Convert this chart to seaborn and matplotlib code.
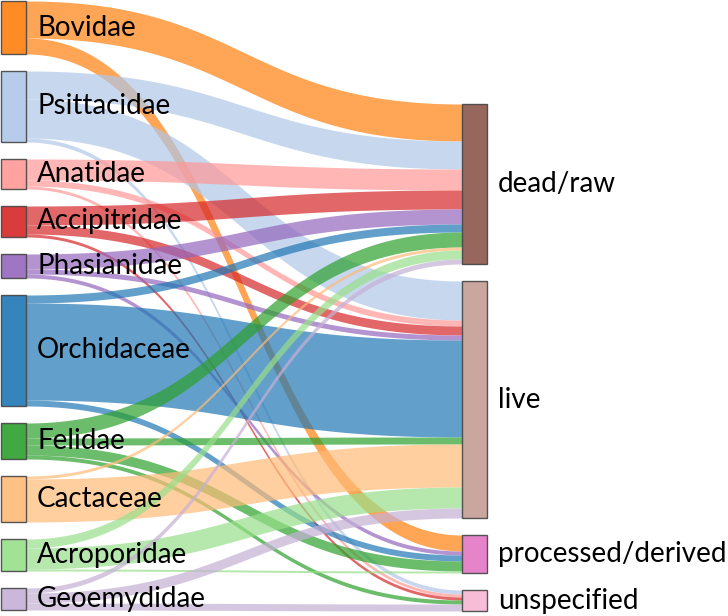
import numpy as np
import pandas as pd
import seaborn as sns
import matplotlib.pyplot as plt
from matplotlib.patches import Rectangle

# families (left column) and trade terms (right column)
families = ['Bovidae', 'Psittacidae', 'Anatidae', 'Accipitridae', 'Phasianidae',
            'Orchidaceae', 'Felidae', 'Cactaceae', 'Acroporidae', 'Geoemydidae']
terms = ['dead/raw', 'live', 'processed/derived', 'unspecified']

# links
link_source = ['Bovidae', 'Bovidae',
               'Psittacidae', 'Psittacidae', 'Psittacidae',
               'Anatidae', 'Anatidae', 'Anatidae',
               'Accipitridae', 'Accipitridae', 'Accipitridae',
               'Phasianidae', 'Phasianidae', 'Phasianidae',
               'Orchidaceae', 'Orchidaceae', 'Orchidaceae',
               'Felidae', 'Felidae', 'Felidae', 'Felidae',
               'Cactaceae', 'Cactaceae',
               'Acroporidae', 'Acroporidae', 'Acroporidae',
               'Geoemydidae', 'Geoemydidae', 'Geoemydidae']
link_target = ['dead/raw', 'processed/derived',
               'dead/raw', 'live', 'unspecified',
               'dead/raw', 'live', 'unspecified',
               'dead/raw', 'live', 'unspecified',
               'dead/raw', 'live', 'processed/derived',
               'dead/raw', 'live', 'processed/derived',
               'dead/raw', 'live', 'processed/derived', 'unspecified',
               'dead/raw', 'live',
               'dead/raw', 'live', 'processed/derived',
               'dead/raw', 'live', 'unspecified']
link_value = [37, 16,
              28, 39, 4,
              21, 6, 3,
              19, 9, 3,
              15, 5, 4,
              8, 97, 6,
              15, 7, 10, 4,
              3, 43,
              9, 21, 2,
              5, 10, 7]

tab20 = sns.color_palette('tab20', 20)
palette_idx = {'Bovidae': 2, 'Psittacidae': 1, 'Anatidae': 7, 'Accipitridae': 6,
               'Phasianidae': 8, 'Orchidaceae': 0, 'Felidae': 4, 'Cactaceae': 3,
               'Acroporidae': 5, 'Geoemydidae': 9, 'dead/raw': 10, 'live': 11,
               'processed/derived': 12, 'unspecified': 13}
colors = {k: tab20[v] for k, v in palette_idx.items()}

links = pd.DataFrame({'source': link_source, 'target': link_target, 'value': link_value})

W, H = 728, 616
fig = plt.figure(figsize=(W / 100, H / 100), dpi=100)
ax = fig.add_axes([0, 0, 1, 1])
ax.set_xlim(0, W)
ax.set_ylim(H, 0)
ax.axis('off')

scale = 1.0
gap = 17
node_w = 25
x_left, x_right = 1, 462

# node layout: left column from the top, right column aligned to its bottom
src_tot = links.groupby('source')['value'].sum().reindex(families)
tgt_tot = links.groupby('target')['value'].sum().reindex(terms)

pos = {}
y = 1
for f in families:
    pos[f] = (y, y + src_tot[f] * scale)
    y += src_tot[f] * scale + gap
left_bottom = y - gap
right_span = tgt_tot.sum() * scale + gap * (len(terms) - 1)
y = left_bottom + 1 - right_span
for t in terms:
    pos[t] = (y, y + tgt_tot[t] * scale)
    y += tgt_tot[t] * scale + gap

# where each band leaves its source and enters its target
src_off = {f: pos[f][0] for f in families}
tgt_off = {t: pos[t][0] for t in terms}
ends = []
for f in families:
    sub = links[links.source == f]
    for t in terms:
        for _, r in sub[sub.target == t].iterrows():
            h = r.value * scale
            ends.append([f, t, src_off[f], h])
            src_off[f] += h
for t in terms:
    for e in ends:
        if e[1] == t:
            e.append(tgt_off[t])
            tgt_off[t] += e[3]

x0, x1 = x_left + node_w, x_right
xm = (x0 + x1) / 2
tt = np.linspace(0, 1, 200)
a = (1 - tt) ** 3 + 3 * (1 - tt) ** 2 * tt
b = 3 * (1 - tt) * tt ** 2 + tt ** 3
xs = (1 - tt) ** 3 * x0 + 3 * (1 - tt) ** 2 * tt * xm + 3 * (1 - tt) * tt ** 2 * xm + tt ** 3 * x1
for f, t, ys, h, yt in ends:
    top = a * ys + b * yt
    ax.fill_between(xs, top, top + h, color=colors[f], alpha=0.7, lw=0)

# nodes and labels
for n in families + terms:
    xn = x_left if n in families else x_right
    y0, y1 = pos[n]
    ax.add_patch(Rectangle((xn, y0), node_w, y1 - y0, facecolor=colors[n],
                           edgecolor='#444444', lw=1, alpha=0.9))
    ax.text(xn + node_w + 11, (y0 + y1) / 2, n, fontsize=20, family='Lato',
            va='center', ha='left', color='black')

plt.savefig('out.png', dpi=100, facecolor='white')
plt.close()
